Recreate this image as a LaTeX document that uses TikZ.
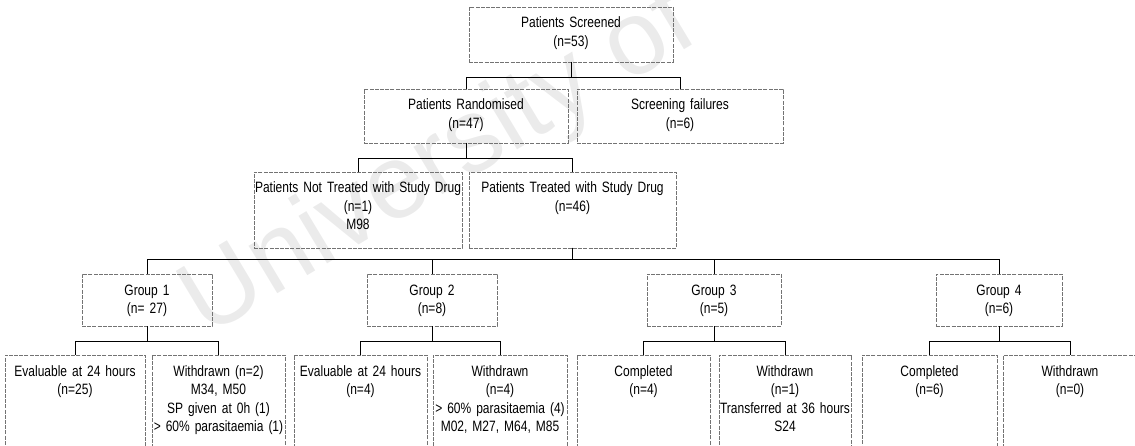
\documentclass[tikz,border=0pt]{standalone}
\usepackage{fontspec}
\setmainfont{Liberation Sans}[FakeStretch=0.8]
\newfontfamily\markfont{Liberation Sans}
\usetikzlibrary{positioning}

\begin{document}
\begin{tikzpicture}[x=1pt, y=-1pt,% styles used in image code
box/.style args = {#1/#2}{draw=black!55, dash pattern=on 4pt off 1.2pt,
              line width=0.8pt, anchor=north,
              text width=#1, align=center,
              inner xsep=0pt, inner ysep=0pt, outer sep=0pt,
              text height=21pt, text depth=#2,
              font=\fontsize{15}{18.5}\selectfont},
link/.style = {draw, line width=0.9pt},
watermark/.style = {text=black!8, rotate=31,
              font=\markfont\fontsize{105}{105}\selectfont}
                    ]
	\useasboundingbox (0,0) rectangle (1135,446);
	% watermark of the scanned page
	\node[watermark] (mark) at (440,165) {University of};

	% screening
	\node[box=204pt/34pt] (scr)  at (571,7)  {Patients Screened\\(n=53)};
	\node[box=204pt/33pt] (rand) at (466,89) {Patients Randomised\\(n=47)};
	\node[box=206pt/33pt] (fail) at (680,89) {Screening failures\\(n=6)};

	% treatment
	\node[box=208pt/55pt] (nottr) at (358,172) {Patients Not Treated with Study Drug\\(n=1)\\M98};
	\node[box=207pt/55pt] (tr)    at (572.5,172) {Patients Treated with Study Drug\\(n=46)};

	% groups
	\node[box=130pt/31pt] (g1) at (147,274) {Group 1\\(n= 27)};
	\node[box=130pt/31pt] (g2) at (432,274) {Group 2\\(n=8)};
	\node[box=134pt/31pt] (g3) at (714,274) {Group 3\\(n=5)};
	\node[box=126pt/31pt] (g4) at (999,274) {Group 4\\(n=6)};

	% outcome per group
	\node[box=140pt/76pt] (e1) at (75,355)    {Evaluable at 24 hours\\(n=25)};
	\node[box=133pt/76pt] (w1) at (218.5,355) {Withdrawn (n=2)\\M34, M50\\SP given at 0h (1)\\> 60\% parasitaemia (1)};
	\node[box=133pt/76pt] (e2) at (360.5,355) {Evaluable at 24 hours\\(n=4)};
	\node[box=134pt/76pt] (w2) at (500,355)   {Withdrawn\\(n=4)\\> 60\% parasitaemia (4)\\M02, M27, M64, M85};
	\node[box=133pt/76pt] (c3) at (643.5,355) {Completed\\(n=4)};
	\node[box=132pt/76pt] (w3) at (785,355)   {Withdrawn\\(n=1)\\Transferred at 36 hours\\S24};
	\node[box=135pt/76pt] (c4) at (929.5,355) {Completed\\(n=6)};
	\node[box=133pt/76pt] (w4) at (1070,355)  {Withdrawn\\(n=0)};

	% connectors
	\draw[link] (scr.south) -- ++(0,15) -| (rand.north);
	\draw[link] (scr.south) -- ++(0,15) -| (fail.north);
	\draw[link] (rand.south) -- ++(0,15) -| (nottr.north);
	\draw[link] (rand.south) -- ++(0,15) -| (tr.north);
	\foreach \g in {g1,g2,g3,g4}
		\draw[link] (tr.south) -- ++(0,11) -| (\g.north);
	\draw[link] (g1.south) -- ++(0,15) -| (e1.north);
	\draw[link] (g1.south) -- ++(0,15) -| (w1.north);
	\draw[link] (g2.south) -- ++(0,15) -| (e2.north);
	\draw[link] (g2.south) -- ++(0,15) -| (w2.north);
	\draw[link] (g3.south) -- ++(0,15) -| (c3.north);
	\draw[link] (g3.south) -- ++(0,15) -| (w3.north);
	\draw[link] (g4.south) -- ++(0,15) -| (c4.north);
	\draw[link] (g4.south) -- ++(0,15) -| (w4.north);
\end{tikzpicture}
\end{document}
